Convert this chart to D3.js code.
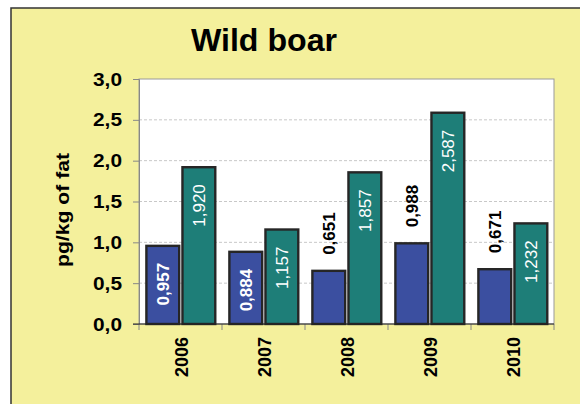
<!DOCTYPE html>
<html>
<head>
<meta charset="utf-8">
<script src="https://cdn.jsdelivr.net/npm/d3@7"></script>
<style>
  html, body { margin: 0; padding: 0; background: #ffffff; }
  svg { display: block; font-family: Arial, "Liberation Sans", sans-serif; }
</style>
</head>
<body>
<svg id="chart" width="580" height="404"></svg>
<script>
const years = ["2006", "2007", "2008", "2009", "2010"];
const seriesA = [0.957, 0.884, 0.651, 0.988, 0.671];
const seriesB = [1.920, 1.157, 1.857, 2.587, 1.232];
const labelInsideA = [true, true, false, false, false];
const labelInsideB = [true, true, true, true, true];
const yTicks = [0, 0.5, 1.0, 1.5, 2.0, 2.5, 3.0];
const seriesColors = ["#3b4fa0", "#1e7e78"];
const titleText = "Wild boar";
const yTitleText = "pg/kg of fat";

const svg = d3.select("#chart");
const W = 580, H = 404;
const plot = { left: 139, top: 79, right: 554, bottom: 324 };

// background frame
svg.append("rect").attr("x", 0).attr("y", 0).attr("width", W).attr("height", H).attr("fill", "#ffffff");
svg.append("rect").attr("x", 11).attr("y", 8).attr("width", W + 20).attr("height", H + 20)
  .attr("fill", "#f4f09c").attr("stroke", "#333").attr("stroke-width", 1.5);

const x0 = d3.scaleBand().domain(years).range([plot.left, plot.right]).paddingInner(0).paddingOuter(0);
const x1 = d3.scaleBand().domain([0, 1])
  .range([x0.bandwidth() * 0.089, x0.bandwidth() * 0.919]).paddingInner(0.09);
const y = d3.scaleLinear().domain([0, 3]).range([plot.bottom, plot.top]);

// plot area
svg.append("rect").attr("x", plot.left).attr("y", plot.top)
  .attr("width", plot.right - plot.left).attr("height", plot.bottom - plot.top)
  .attr("fill", "#ffffff").attr("stroke", "#999").attr("stroke-width", 1);

// gridlines
svg.append("g").selectAll("line").data(yTicks.filter(d => d > 0 && d < 3)).join("line")
  .attr("x1", plot.left).attr("x2", plot.right)
  .attr("y1", d => y(d)).attr("y2", d => y(d))
  .attr("stroke", "#c8c8c8").attr("stroke-width", 1).attr("stroke-dasharray", "3,2");

// y axis
const fmt1 = v => d3.format(".1f")(v).replace(".", ",");
const yAxis = svg.append("g").attr("transform", `translate(${plot.left},0)`)
  .call(d3.axisLeft(y).tickValues(yTicks).tickFormat(fmt1).tickSize(6).tickPadding(11));
yAxis.select(".domain").attr("stroke", "#888");
yAxis.selectAll(".tick line").attr("stroke", "#888");
yAxis.selectAll(".tick text").attr("font-size", 19).attr("font-weight", "bold").attr("fill", "#000")
  .attr("font-family", "Arial, 'Liberation Sans', sans-serif")
  .attr("textLength", 29).attr("lengthAdjust", "spacingAndGlyphs");

// x axis ticks at boundaries
const boundaries = years.map(d => x0(d)).concat([plot.right]);
svg.append("g").selectAll("line").data(boundaries).join("line")
  .attr("x1", d => d).attr("x2", d => d).attr("y1", plot.bottom).attr("y2", plot.bottom + 6)
  .attr("stroke", "#888");

// bars
const fmt3 = v => d3.format(".3f")(v).replace(".", ",");
const groups = svg.append("g").selectAll("g").data(years).join("g")
  .attr("transform", d => `translate(${x0(d)},0)`);
groups.each(function(yr, i) {
  const g = d3.select(this);
  const data = [
    { s: 0, v: seriesA[i], inside: labelInsideA[i] },
    { s: 1, v: seriesB[i], inside: labelInsideB[i] }
  ];
  g.selectAll("rect").data(data).join("rect")
    .attr("x", d => x1(d.s)).attr("width", x1.bandwidth())
    .attr("y", d => y(d.v)).attr("height", d => y(0) - y(d.v))
    .attr("fill", d => seriesColors[d.s]).attr("stroke", "#262626").attr("stroke-width", 2.4);
  g.selectAll("text").data(data).join("text")
    .attr("transform", d => {
      const cx = x1(d.s) + x1.bandwidth() / 2;
      const ty = d.inside ? y(d.v) + 17 : y(d.v) - 16;
      return `translate(${cx},${ty}) rotate(-90)`;
    })
    .attr("text-anchor", d => d.inside ? "end" : "start")
    .attr("dy", "0.36em")
    .attr("font-size", 17)
    .attr("font-weight", d => (d.s === 0 || !d.inside) ? "bold" : "normal")
    .attr("fill", d => d.inside ? "#ffffff" : "#000000")
    .text(d => fmt3(d.v));
});

// bottom axis line
svg.append("line").attr("x1", plot.left - 6).attr("x2", plot.right)
  .attr("y1", plot.bottom).attr("y2", plot.bottom).attr("stroke", "#222").attr("stroke-width", 1.2);

// x labels
svg.append("g").selectAll("text").data(years).join("text")
  .attr("transform", d => `translate(${x0(d) + x0.bandwidth() / 2 + 1},${plot.bottom + 13}) rotate(-90)`)
  .attr("text-anchor", "end").attr("dy", "0.36em")
  .attr("font-size", 18).attr("font-weight", "bold").attr("fill", "#000")
  .text(d => d);

// title
svg.append("text").attr("x", 264).attr("y", 51).attr("text-anchor", "middle")
  .attr("font-size", 31).attr("font-weight", "bold").attr("fill", "#000")
  .attr("textLength", 146).attr("lengthAdjust", "spacingAndGlyphs").text(titleText);

// y title
svg.append("text").attr("transform", "translate(62,210) rotate(-90)")
  .attr("text-anchor", "middle").attr("dy", "0.36em")
  .attr("font-size", 19).attr("font-weight", "bold").attr("fill", "#000")
  .attr("textLength", 114).attr("lengthAdjust", "spacingAndGlyphs").text(yTitleText);
</script>
</body>
</html>
